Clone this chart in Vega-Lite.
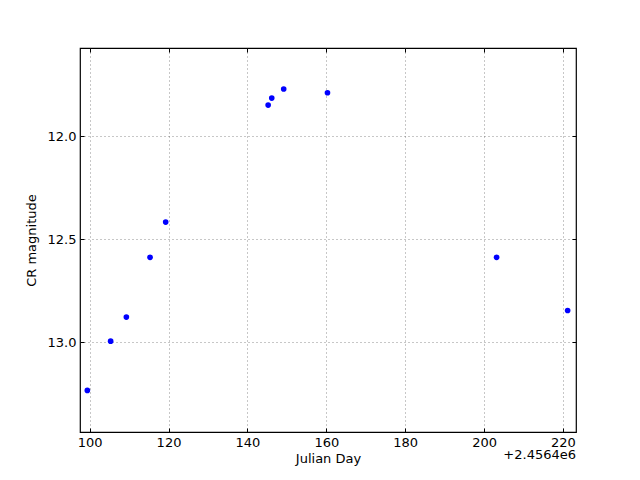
{
  "$schema": "https://vega.github.io/schema/vega-lite/v6.json",
  "width": 496,
  "height": 384,
  "autosize": {"type": "none"},
  "padding": {"left": 80, "top": 48, "right": 64, "bottom": 48},
  "background": "white",
  "config": {
    "font": "DejaVu Sans",
    "view": {"stroke": "black", "strokeWidth": 1.2},
    "axis": {
      "labelFont": "DejaVu Sans",
      "titleFont": "DejaVu Sans",
      "labelFontSize": 13,
      "titleFontSize": 13,
      "titleFontWeight": "normal",
      "labelColor": "black",
      "titleColor": "black",
      "domain": false,
      "tickColor": "black",
      "tickSize": -4,
      "gridColor": "#444",
      "gridWidth": 0.6,
      "gridDash": [1, 3]
    }
  },
  "data": {
    "values": [
      {"jd": 99.42, "mag": 13.233},
      {"jd": 105.33, "mag": 12.994},
      {"jd": 109.31, "mag": 12.877},
      {"jd": 115.32, "mag": 12.587},
      {"jd": 119.28, "mag": 12.416},
      {"jd": 145.26, "mag": 11.848},
      {"jd": 146.17, "mag": 11.814},
      {"jd": 149.2, "mag": 11.77},
      {"jd": 160.3, "mag": 11.788},
      {"jd": 203.17, "mag": 12.587},
      {"jd": 221.18, "mag": 12.845}
    ]
  },
  "title": {
    "text": "+2.4564e6",
    "orient": "bottom",
    "anchor": "end",
    "frame": "group",
    "offset": -16,
    "baseline": "top",
    "font": "DejaVu Sans",
    "fontSize": 13,
    "fontWeight": "normal",
    "color": "black"
  },
  "layer": [
    {
      "mark": {"type": "point", "filled": true, "color": "#0000ff", "size": 32, "opacity": 1, "clip": true},
      "encoding": {
        "x": {
          "field": "jd", "type": "quantitative",
          "scale": {"domain": [97.56, 223.3], "nice": false, "zero": false},
          "axis": {"values": [100, 120, 140, 160, 180, 200, 220], "title": "Julian Day", "titlePadding": 3, "labelPadding": 8, "format": "d"}
        },
        "y": {
          "field": "mag", "type": "quantitative",
          "scale": {"domain": [13.435, 11.571], "nice": false, "zero": false},
          "axis": {"values": [12.0, 12.5, 13.0], "title": "CR magnitude", "format": ".1f", "labelPadding": 8, "titlePadding": 9}
        }
      }
    },
    {
      "mark": {"type": "point", "opacity": 0},
      "encoding": {
        "x": {
          "field": "jd", "type": "quantitative",
          "scale": {"domain": [97.56, 223.3], "nice": false, "zero": false},
          "axis": {"orient": "top", "values": [100, 120, 140, 160, 180, 200, 220], "labels": false, "title": null, "grid": false}
        },
        "y": {
          "field": "mag", "type": "quantitative",
          "scale": {"domain": [13.435, 11.571], "nice": false, "zero": false},
          "axis": {"orient": "right", "values": [12.0, 12.5, 13.0], "labels": false, "title": null, "grid": false}
        }
      }
    }
  ],
  "resolve": {"axis": {"x": "independent", "y": "independent"}}
}
